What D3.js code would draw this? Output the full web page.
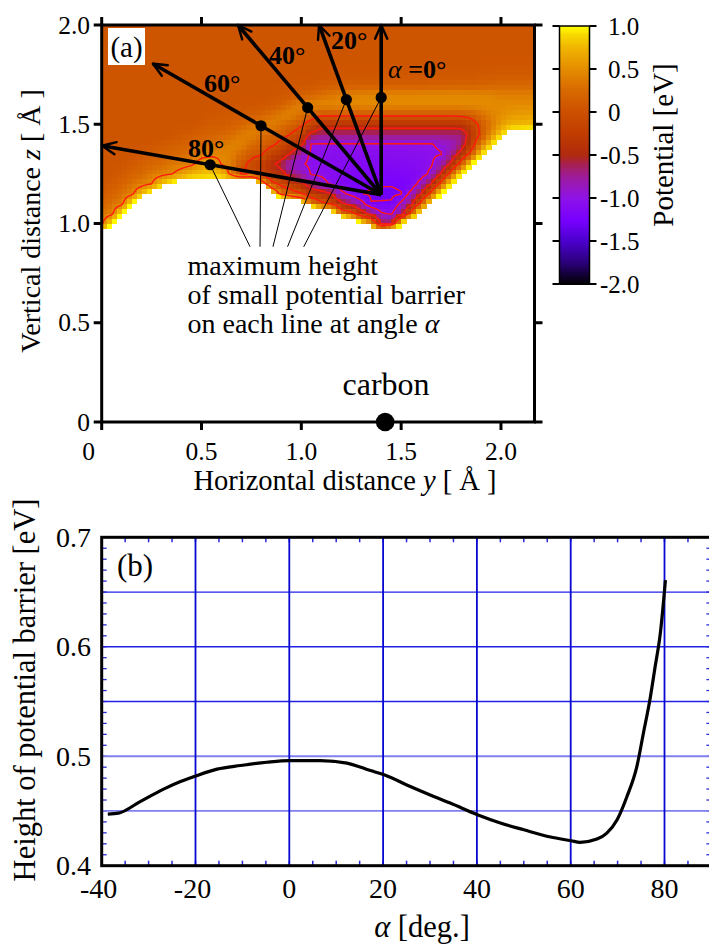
<!DOCTYPE html>
<html><head><meta charset="utf-8">
<script src="https://cdn.jsdelivr.net/npm/d3@7"></script>
<style>
html,body{margin:0;padding:0;background:#fff;}
svg{display:block;}
text{font-family:"Liberation Serif","Times New Roman",Times,serif;fill:#000;}
</style></head><body>
<svg id="fig" width="709" height="945" font-family="Liberation Serif, Times New Roman, serif"></svg>
<script>
// ---------- (a) potential map, eV x 100 ----------
// columns: y = 0.00 ... 2.20 Å (step 0.05); rows: z = 2.00 Å (top) ... 0.90 Å (bottom)
// "v*n" repeats v n times; values above 100 (1 eV) lie outside the colour range
const mapStep = 0.05;
const mapTopZ = 2.0;
const potentialRows = [
  "5*45",
  "5*45",
  "5*45",
  "5*45",
  "5*38 6 6 7*5",
  "5*22 6 6 7*4 8*10 9 10 12*5",
  "5*19 6 7 7 10 12 13 14 15*7 16 16 17 18 18 20 22 24*5",
  "5*17 6 7 9 16 22 30 35 40 42 44 45 46 46 47 47 47 48 48 48 48 47 46 45 40*5",
  "5*14 6 7 8 9 15 32 42 44 46 47 48 48 49*13 50 48 50*4",
  "5*11 7 8 9 11 14 20 30 40 44 30 19 8*14 9 15 30 42 50 58 60 60 60",
  "5*10 8 13 12 16 22 32 41 41 32 19 5 -16 -38*14 -35 -20 10 35 60 75 78 80 80",
  "5*8 9 13 17 20 22 28 38 43 31 23 13 -2 -18 -58 -68*14 -70 -35 6 50 90 125 128 130 130",
  "5*5 7 10 14 18 22 25 30 36 43 43 27 17 7 -10 -25 -40 -101*13 -96 -90 -68 -25 40 90 140 150*4",
  "5*4 10 15 18 23 28 32 41 45 46 42 25 8 3 -20 -32 -55 -85 -105 -104 -106 -107 -108 -108 -108 -108 -107 -107 -106 -105 -104 -101 -72 -38 12 92 140 150*5",
  "5*3 10 17 23 28 36 40 45 62 65 49 38 8 -8 -25 -42 -62 -88 -97 -105 -105 -108 -110 -112 -113 -113 -114 -113 -112 -111 -109 -103 -80 -44 16 102 172 150*6",
  "5*2 10 20 25 36 43 49 61 75 81 84 79 40 -5 3 -8 -25 -40 -65 -80 -102 -104 -110 -112 -116 -118 -117 -118 -118 -117 -115 -112 -93 -47 15 102 150*8",
  "5 11 20 31 41 50 81 106 117 117 113 111 114 140 170 167 80 10 -8 -25 -40 -75 -90 -104 -115 -120 -122 -121 -123 -123 -121 -118 -87 -50 12 102 150*9",
  "11 20 30 44 79 113 144 150*9 250 110 32 17 2 -22 -35 -50 -93 -108 -124 -128 -130 -130 -126 -90 -50 12 110 150*10",
  "21 31 43 100 149 150*13 250 155 125 33 9 -5 -42 -64 -88 -124 -123 -122 -94 -60 12 122 150*11",
  "32 43 100 150*18 300 191 150 28 16 -30 -61 -97 -103 -70 15 138 150*12",
  "44 100 150*22 300 184 120 60 -55 -60 102 228 150*13",
  "114 150*26 193 180 340 150*15",
  "150*45"
];
const contourLevels = [0, -0.5, -1.0, -1.25];   // eV, lines round the well
const fringeLevel = 0.5;                         // eV, line along the barrier fringe
const fringeLimitY = 1.02;                       // Å, extent of that line

// lines from the well centre at angle alpha, barrier maxima on each
const lineAngles = [0, 20, 40, 60, 80];
const barrierDist = [0.49, 0.51, 0.573, 0.695, 0.87];
const arrowLength = [0.855, 0.91, 1.116, 1.32, 1.42];
const lineOrigin = [1.40, 1.145];
const leaderEndY = [1.012, 0.931, 0.858, 0.793, 0.743];
const leaderEndZ = 0.883;
const carbonSite = [1.42, 0];

const axisTicksA = [0, 0.5, 1.0, 1.5, 2.0];
const cbarTicks = [1.0, 0.5, 0, -0.5, -1.0, -1.5, -2.0];
const paletteStops = [-2.0, -1.75, -1.5, -1.25, -1.0, -0.75, -0.6, -0.5, -0.25, 0, 0.25, 0.5, 0.75, 0.9, 1.0];
const paletteColors = ["#000000","#2a0078","#4a00cc","#7800ff","#8e12e8","#9e1c9c","#a82050","#b02a10","#c03c00","#cc5000","#d86800","#e48c00","#f0b400","#f8d800","#ffff00"];

// ---------- (b) barrier height vs alpha ----------
const alphaDeg = [-38.7,-36.4,-31.8,-26.8,-23.2,-20.3,-15.4,-10.4,-4.8,0,6.6,12.3,17.3,20.2,25.8,30.8,34.3,40.1,45,50,55.7,60.1,62,65.6,67.7,69.9,72,74.1,75.5,77,78,79.1,80.2];
const barrierEV = [0.4471,0.448,0.4586,0.470,0.4769,0.4814,0.4882,0.4915,0.4945,0.496,0.496,0.4937,0.4869,0.483,0.4723,0.4632,0.4572,0.4465,0.439,0.4328,0.4262,0.4228,0.4213,0.4243,0.4298,0.442,0.4632,0.4905,0.521,0.5544,0.5817,0.612,0.6608];
const alphaTicks = [-40, -20, 0, 20, 40, 60, 80];
const heightTicks = [0.4, 0.5, 0.6, 0.7];
const heightGrid = [0.45, 0.5, 0.55, 0.6, 0.65];

// ================= drawing =================
const svg = d3.select("#fig");
svg.append("rect").attr("width", 709).attr("height", 945).attr("fill", "#fff");

const expand = s => s.trim().split(/\s+/).flatMap(t => {
  const [v, n] = t.split("*"); return Array(n ? +n : 1).fill(+v);
});
const grid = potentialRows.map(expand);
const NX = grid[0].length, NZ = grid.length;

function potential(y, z) {           // bilinear within the map, eV x 100
  let fx = y / mapStep, fz = (mapTopZ - z) / mapStep;
  fx = Math.max(0, Math.min(NX - 1.000001, fx));
  fz = Math.max(0, Math.min(NZ - 1.000001, fz));
  const c = Math.floor(fx), r = Math.floor(fz), tx = fx - c, tz = fz - r;
  const a = grid[r][c] * (1 - tx) + grid[r][c + 1] * tx;
  const b = grid[r + 1][c] * (1 - tx) + grid[r + 1][c + 1] * tx;
  return a * (1 - tz) + b * tz;
}

const ax = d3.scaleLinear().domain([0, 2.168]).range([101.7, 534.5]);
const az = d3.scaleLinear().domain([0, 2.0]).range([422, 25]);
const colour = d3.scaleLinear().domain(paletteStops).range(paletteColors).clamp(true);

const defs = svg.append("defs");
defs.append("clipPath").attr("id", "clipA").append("rect")
  .attr("x", ax(0)).attr("y", az(2)).attr("width", ax(2.168) - ax(0)).attr("height", az(0) - az(2));
defs.append("clipPath").attr("id", "clipFringe").append("rect")
  .attr("x", ax(0)).attr("y", az(2)).attr("width", ax(fringeLimitY) - ax(0)).attr("height", az(0.93) - az(2));

// heat map
const cell = 0.025;
const blocks = [];
for (let k = 0; k * cell < 2.168; k++) {
  for (let m = 0; 0.9 + m * cell < mapTopZ - 1e-9; m++) {
    const y0 = k * cell, z0 = 0.9 + m * cell;
    const v = potential(y0 + cell / 2, z0 + cell / 2) / 100;
    if (v <= 1.0) blocks.push({ y0, z0, v });
  }
}
const gA = svg.append("g").attr("clip-path", "url(#clipA)");
gA.append("g").attr("shape-rendering", "crispEdges").selectAll("rect").data(blocks).join("rect")
  .attr("x", d => ax(d.y0)).attr("y", d => az(d.z0 + cell))
  .attr("width", d => ax(d.y0 + cell) - ax(d.y0) + 0.6)
  .attr("height", d => az(d.z0) - az(d.z0 + cell) + 0.6)
  .attr("fill", d => colour(d.v));

// contours on a refined sampling of the map
const F = 4, fnx = (NX - 1) * F + 1, fnz = (NZ - 1) * F + 1, fs = mapStep / F;
const fine = new Float64Array(fnx * fnz);
for (let r = 0; r < fnz; r++) for (let c = 0; c < fnx; c++) fine[r * fnx + c] = potential(c * fs, mapTopZ - r * fs);
const negFine = fine.map(v => -v);
const toPlot = d3.geoTransform({ point: function (x, y) {
  this.stream.point(ax((x - 0.5) * fs), az(mapTopZ - (y - 0.5) * fs));
}});
const cpath = d3.geoPath(toPlot);
const cgen = d3.contours().size([fnx, fnz]);
gA.append("g").selectAll("path").data(contourLevels.map(l => cgen.contour(negFine, -l * 100))).join("path")
  .attr("d", cpath).attr("fill", "none").attr("stroke", "#ff1a10").attr("stroke-width", 1.4);
gA.append("path").attr("clip-path", "url(#clipFringe)")
  .attr("d", cpath(cgen.contour(fine, fringeLevel * 100)))
  .attr("fill", "none").attr("stroke", "#ff1a10").attr("stroke-width", 1.4);

// (a) label box
svg.append("rect").attr("x", 108).attr("y", 28).attr("width", 37).attr("height", 37).attr("fill", "#fff");
svg.append("text").attr("x", 126.5).attr("y", 56.5).attr("text-anchor", "middle").attr("font-size", 29).text("(a)");

// lines, arrows and barrier maxima
const gL = svg.append("g");
const ox = ax(lineOrigin[0]), oz = az(lineOrigin[1]);
lineAngles.forEach((a, i) => {
  const t = a * Math.PI / 180, dy = -Math.sin(t), dz = Math.cos(t);
  const tx = ax(lineOrigin[0] + dy * arrowLength[i]), tz = az(lineOrigin[1] + dz * arrowLength[i]);
  gL.append("line").attr("x1", ox).attr("y1", oz).attr("x2", tx).attr("y2", tz)
    .attr("stroke", "#000").attr("stroke-width", 3.6);
  const L = Math.hypot(tx - ox, tz - oz), ux = (tx - ox) / L, uz = (tz - oz) / L;
  [-1, 1].forEach(s => {
    const ang = s * 24 * Math.PI / 180;
    const bx = ux * Math.cos(ang) - uz * Math.sin(ang), bz = ux * Math.sin(ang) + uz * Math.cos(ang);
    gL.append("line").attr("x1", tx).attr("y1", tz).attr("x2", tx - 15 * bx).attr("y2", tz - 15 * bz)
      .attr("stroke", "#000").attr("stroke-width", 2.4).attr("stroke-linecap", "round");
  });
  const py = lineOrigin[0] + dy * barrierDist[i], pz = lineOrigin[1] + dz * barrierDist[i];
  gL.append("line").attr("x1", ax(py)).attr("y1", az(pz)).attr("x2", ax(leaderEndY[i])).attr("y2", az(leaderEndZ))
    .attr("stroke", "#000").attr("stroke-width", 1);
  gL.append("circle").attr("cx", ax(py)).attr("cy", az(pz)).attr("r", 5.6).attr("fill", "#000");
});

// angle labels
const angLab = svg.append("g").attr("font-size", 26).attr("font-weight", "bold");
[[0.432, 1.335, "80°"], [0.513, 1.662, "60°"], [0.838, 1.803, "40°"], [1.148, 1.879, "20°"]].forEach(d => {
  angLab.append("text").attr("x", ax(d[0])).attr("y", az(d[1])).text(d[2]);
});
const a0 = angLab.append("text").attr("x", ax(1.434)).attr("y", az(1.733));
a0.append("tspan").attr("font-style", "italic").attr("font-weight", "normal").text("α");
a0.append("tspan").text(" =0°");

// annotation text
const note = svg.append("g").attr("font-size", 28);
note.append("text").attr("x", 187.5).attr("y", 275).text("maximum height");
note.append("text").attr("x", 187.5).attr("y", 303.5).text("of small potential barrier");
const n3 = note.append("text").attr("x", 187.5).attr("y", 332.5);
n3.append("tspan").text("on each line at angle ");
n3.append("tspan").attr("font-style", "italic").text("α");

// carbon
svg.append("circle").attr("cx", ax(carbonSite[0])).attr("cy", az(carbonSite[1])).attr("r", 9.3).attr("fill", "#000");
svg.append("text").attr("x", 386).attr("y", 395).attr("text-anchor", "middle").attr("font-size", 32).text("carbon");

// frame and ticks of (a)
const fr = svg.append("g").attr("stroke", "#000").attr("stroke-width", 3).attr("fill", "none");
fr.append("rect").attr("x", ax(0)).attr("y", az(2)).attr("width", ax(2.168) - ax(0)).attr("height", az(0) - az(2));
axisTicksA.forEach(v => {
  fr.append("line").attr("x1", ax(v)).attr("x2", ax(v)).attr("y1", az(0)).attr("y2", az(0) + 8);
  fr.append("line").attr("x1", ax(v)).attr("x2", ax(v)).attr("y1", az(2)).attr("y2", az(2) - 8);
  fr.append("line").attr("x1", ax(0)).attr("x2", ax(0) - 8).attr("y1", az(v)).attr("y2", az(v));
  fr.append("line").attr("x1", ax(2.168)).attr("x2", ax(2.168) + 8).attr("y1", az(v)).attr("y2", az(v));
});
const tl = svg.append("g").attr("font-size", 25.5);
axisTicksA.forEach(v => {
  const s = v === 0 ? "0" : v.toFixed(1);
  tl.append("text").attr("x", ax(v) + (v === 0 ? -13 : 0)).attr("y", 460).attr("text-anchor", "middle").text(s);
  tl.append("text").attr("x", 90).attr("y", az(v) + 8.5).attr("text-anchor", "end").text(s);
});
const xt = svg.append("text").attr("x", 345).attr("y", 490).attr("text-anchor", "middle").attr("font-size", 28.5);
xt.append("tspan").text("Horizontal distance ");
xt.append("tspan").attr("font-style", "italic").text("y");
xt.append("tspan").text(" [ Å ]");
const yt = svg.append("text").attr("transform", "translate(40,221) rotate(-90)").attr("text-anchor", "middle").attr("font-size", 28);
yt.append("tspan").text("Vertical distance ");
yt.append("tspan").attr("font-style", "italic").text("z");
yt.append("tspan").text(" [ Å ]");

// colour bar
const cz = d3.scaleLinear().domain([-2, 1]).range([284, 26]);
const cbx = 559.5, cbw = 30;
svg.append("g").attr("shape-rendering", "crispEdges").selectAll("rect").data(d3.range(-2, 1, 0.01)).join("rect")
  .attr("x", cbx).attr("width", cbw).attr("y", d => cz(d + 0.01)).attr("height", d => cz(d) - cz(d + 0.01) + 0.5)
  .attr("fill", d => colour(d + 0.005));
svg.append("rect").attr("x", cbx).attr("y", cz(1)).attr("width", cbw).attr("height", cz(-2) - cz(1))
  .attr("fill", "none").attr("stroke", "#000").attr("stroke-width", 1.5);
const cbt = svg.append("g");
cbarTicks.forEach(v => {
  cbt.append("line").attr("x1", cbx - 7).attr("x2", cbx).attr("y1", cz(v)).attr("y2", cz(v)).attr("stroke", "#000").attr("stroke-width", 2);
  cbt.append("line").attr("x1", cbx + cbw).attr("x2", cbx + cbw + 7).attr("y1", cz(v)).attr("y2", cz(v)).attr("stroke", "#000").attr("stroke-width", 2);
  cbt.append("text").attr("x", v < 0 ? 600 : 608).attr("y", cz(v) + 8.5).attr("font-size", 25)
    .text(v === 0 ? "0" : v.toFixed(1));
});
svg.append("text").attr("transform", "translate(673,145) rotate(-90)").attr("text-anchor", "middle").attr("font-size", 29).text("Potential [eV]");

// ================= (b) =================
const bx = d3.scaleLinear().domain([-40, 90]).range([101.7, 711.4]);
const by = d3.scaleLinear().domain([0.4, 0.7]).range([865.7, 537.3]);
const gb = svg.append("g");
// minor ticks
const minorC = "#2a2ad8";
d3.range(-40, 91, 5).forEach(v => {
  gb.append("line").attr("x1", bx(v)).attr("x2", bx(v)).attr("y1", by(0.4)).attr("y2", by(0.4) - 5).attr("stroke", minorC).attr("stroke-width", 1.5);
  gb.append("line").attr("x1", bx(v)).attr("x2", bx(v)).attr("y1", by(0.7)).attr("y2", by(0.7) + 5).attr("stroke", minorC).attr("stroke-width", 1.5);
});
d3.range(0, 31).map(i => 0.4 + i * 0.01).forEach(v => {
  gb.append("line").attr("x1", bx(-40)).attr("x2", bx(-40) + 5).attr("y1", by(v)).attr("y2", by(v)).attr("stroke", minorC).attr("stroke-width", 1.3);
  gb.append("line").attr("x1", bx(90)).attr("x2", bx(90) - 5).attr("y1", by(v)).attr("y2", by(v)).attr("stroke", minorC).attr("stroke-width", 1.3);
});
// grid
heightGrid.forEach(v => {
  const light = v <= 0.5;
  gb.append("line").attr("x1", bx(-40)).attr("x2", bx(90)).attr("y1", by(v)).attr("y2", by(v))
    .attr("stroke", light ? "#8080ee" : "#2222e6").attr("stroke-width", light ? 1.8 : 1.3);
});
alphaTicks.filter(v => v > -40).forEach(v => {
  gb.append("line").attr("x1", bx(v)).attr("x2", bx(v)).attr("y1", by(0.4)).attr("y2", by(0.7))
    .attr("stroke", "#0808d0").attr("stroke-width", 1.8);
});
// curve
gb.append("path").datum(alphaDeg.map((a, i) => [a, barrierEV[i]]))
  .attr("d", d3.line().x(d => bx(d[0])).y(d => by(d[1])).curve(d3.curveMonotoneX))
  .attr("fill", "none").attr("stroke", "#000").attr("stroke-width", 3.2).attr("stroke-linejoin", "round");
// frame
const fb = gb.append("g").attr("stroke", "#000").attr("stroke-width", 3).attr("fill", "none");
fb.append("rect").attr("x", bx(-40)).attr("y", by(0.7)).attr("width", bx(90) - bx(-40)).attr("height", by(0.4) - by(0.7));
// labels
const tb = svg.append("g").attr("font-size", 28);
alphaTicks.forEach(v => tb.append("text").attr("x", bx(v) - (v < 0 ? 3 : 0)).attr("y", 898).attr("text-anchor", "middle").text(v));
heightTicks.forEach(v => tb.append("text").attr("x", 91).attr("y", by(v) + 9.5).attr("text-anchor", "end").text(v.toFixed(1)));
svg.append("text").attr("x", 117).attr("y", 576).attr("font-size", 31).text("(b)");
const bxt = svg.append("text").attr("x", 422).attr("y", 937).attr("text-anchor", "middle").attr("font-size", 30.5);
bxt.append("tspan").attr("font-style", "italic").text("α");
bxt.append("tspan").text("  [deg.]");
svg.append("text").attr("transform", "translate(34.5,690) rotate(-90)").attr("text-anchor", "middle").attr("font-size", 30.5)
  .text("Height of potential barrier [eV]");
</script>
</body></html>
